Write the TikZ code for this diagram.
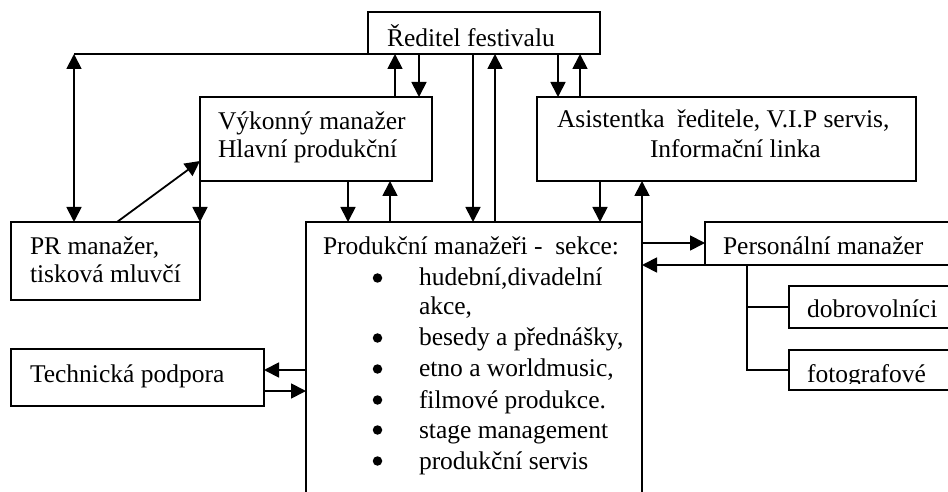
\documentclass[tikz,border=0pt]{standalone}
\usepackage{fontspec}
\setmainfont{Liberation Serif}
\usetikzlibrary{arrows.meta}
\begin{document}
\begin{tikzpicture}[x=1bp,y=-1bp,
  line width=1.8bp,
  box/.style={draw, inner sep=0pt, outer sep=0pt, anchor=north west},
  txt/.style={anchor=base west, inner sep=0pt, outer sep=0pt, font=\fontsize{25.5bp}{30bp}\selectfont},
  bul/.style={circle, fill, draw=none, inner sep=0pt, minimum size=9.5bp},
  arr/.style={-{Triangle[length=15bp,width=15bp]}},
  darr/.style={{Triangle[length=15bp,width=15bp]}-{Triangle[length=15bp,width=15bp]}}]
\useasboundingbox (0,0) rectangle (948,492);
\clip (0,0) rectangle (948,492);
% boxes
\node[box, minimum width=232bp, minimum height=42bp] (red) at (368,12) {};
\node[box, minimum width=232bp, minimum height=84bp] (vyk) at (200,97) {};
\node[box, minimum width=379bp, minimum height=84bp] (asi) at (537,97) {};
\node[box, minimum width=189bp, minimum height=78bp] (pr) at (11,222) {};
\node[box, minimum width=336bp, minimum height=320bp] (prod) at (306,222) {};
\node[box, minimum width=260bp, minimum height=43bp] (per) at (705,222) {};
\node[box, minimum width=180bp, minimum height=42bp] (dob) at (789,286) {};
\node[box, minimum width=180bp, minimum height=40bp] (fot) at (789,350) {};
\node[box, minimum width=253bp, minimum height=57bp] (tech) at (11,349) {};
% texts
\node[txt] (tred) at (387,47) {Ředitel festivalu};
\node[txt] (tvyk1) at (218,130) {Výkonný manažer};
\node[txt] (tvyk2) at (218,158) {Hlavní produkční};
\node[txt] (tasi1) at (557,128) {Asistentka\ \ ředitele, V.I.P servis,};
\node[txt] (tasi2) at (650,158) {Informační linka};
\node[txt] (tpr1) at (30,255) {PR manažer,};
\node[txt] (tpr2) at (30,283) {tisková mluvčí};
\node[txt] (ttech) at (30,382) {Technická podpora};
\node[txt] (tprod) at (323,255) {Produkční manažeři -\ \ sekce:};
\node[txt] (tper) at (723,255) {Personální manažer};
\node[txt] (tdob) at (807,318) {dobrovolníci};
\begin{scope}
\clip (fot.north west) rectangle (fot.east |- 0,383);
\node[txt] (tfot) at (807,382) {fotografové};
\end{scope}
\foreach \t/\b/\n in {hudební{,}divadelní/286/i1, akce{,}/315/i2, besedy a přednášky{,}/346/i3, etno a worldmusic{,}/377/i4, filmové produkce./408/i5, stage management/438/i6, produkční servis/469/i7}{
  \node[txt] (\n) at (419,\b) {\t};
}
\foreach \b/\n in {286/b1, 346/b3, 377/b4, 408/b5, 438/b6, 469/b7}{
  \node[bul] (\n) at (377.5,\b-8) {};
}
% connectors
\coordinate (cpr) at (74,54);
\draw (red.south west) -- (cpr);
\draw[darr] (cpr) -- (pr.north -| cpr);
\draw[arr] (vyk.north -| 395,0) -- (red.south -| 395,0);
\draw[arr] (red.south -| 419,0) -- (vyk.north -| 419,0);
\draw[arr] (vyk.south west) -- (pr.north east);
\draw[arr] (pr.north -| 117,0) -- (vyk.west |- 0,161);
\draw[arr] (vyk.south -| 348,0) -- (prod.north -| 348,0);
\draw[arr] (prod.north -| 390,0) -- (vyk.south -| 390,0);
\draw[arr] (red.south -| 473,0) -- (prod.north -| 473,0);
\draw[arr] (prod.north -| 495,0) -- (red.south -| 495,0);
\draw[arr] (red.south -| 558,0) -- (asi.north -| 558,0);
\draw[arr] (asi.north -| 580,0) -- (red.south -| 580,0);
\draw[arr] (asi.south -| 600,0) -- (prod.north -| 600,0);
\draw[arr] (prod.north east) -- (asi.south -| prod.north east);
\draw[arr] (prod.east |- 0,243) -- (per.west |- 0,243);
\draw[arr] (per.south west) -- (prod.east |- per.south west);
\draw (per.south -| 747,0) -- (747,370) -- (fot.west |- 0,370);
\draw (747,307) -- (dob.west |- 0,307);
\draw[arr] (prod.west |- 0,370) -- (tech.east |- 0,370);
\draw[arr] (tech.east |- 0,391) -- (prod.west |- 0,391);
\end{tikzpicture}
\end{document}
